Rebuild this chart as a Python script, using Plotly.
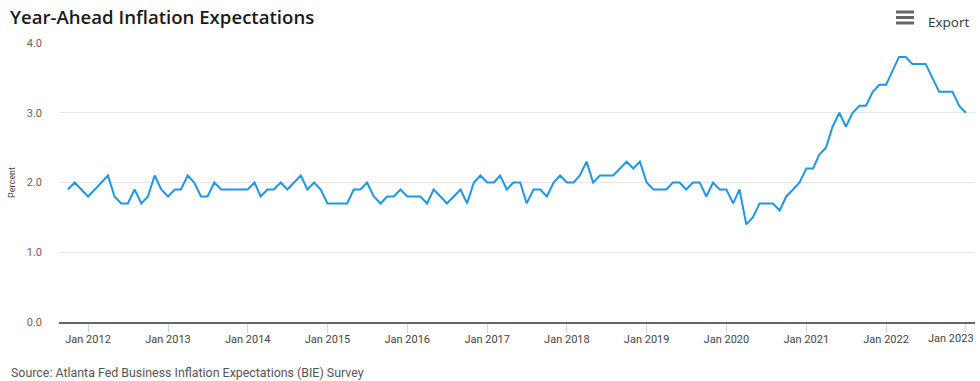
import plotly.graph_objects as go
import pandas as pd

start_month = "2011-10-01"
values = [
    1.9, 2.0, 1.9,
    1.8, 1.9, 2.0, 2.1, 1.8, 1.7, 1.7, 1.9, 1.7, 1.8, 2.1, 1.9,
    1.8, 1.9, 1.9, 2.1, 2.0, 1.8, 1.8, 2.0, 1.9, 1.9, 1.9, 1.9,
    1.9, 2.0, 1.8, 1.9, 1.9, 2.0, 1.9, 2.0, 2.1, 1.9, 2.0, 1.9,
    1.7, 1.7, 1.7, 1.7, 1.9, 1.9, 2.0, 1.8, 1.7, 1.8, 1.8, 1.9,
    1.8, 1.8, 1.8, 1.7, 1.9, 1.8, 1.7, 1.8, 1.9, 1.7, 2.0, 2.1,
    2.0, 2.0, 2.1, 1.9, 2.0, 2.0, 1.7, 1.9, 1.9, 1.8, 2.0, 2.1,
    2.0, 2.0, 2.1, 2.3, 2.0, 2.1, 2.1, 2.1, 2.2, 2.3, 2.2, 2.3,
    2.0, 1.9, 1.9, 1.9, 2.0, 2.0, 1.9, 2.0, 2.0, 1.8, 2.0, 1.9,
    1.9, 1.7, 1.9, 1.4, 1.5, 1.7, 1.7, 1.7, 1.6, 1.8, 1.9, 2.0,
    2.2, 2.2, 2.4, 2.5, 2.8, 3.0, 2.8, 3.0, 3.1, 3.1, 3.3, 3.4,
    3.4, 3.6, 3.8, 3.8, 3.7, 3.7, 3.7, 3.5, 3.3, 3.3, 3.3, 3.1,
    3.0,
]
dates = pd.date_range(start_month, periods=len(values), freq="MS")

x_tick_dates = pd.date_range("2012-01-01", "2023-01-01", freq="YS")
x_tick_labels = [d.strftime("Jan %Y") for d in x_tick_dates]
y_ticks = [0, 1, 2, 3, 4]
y_labels = ["0.0", "1.0", "2.0", "3.0", "4.0"]
title_text = "Year-Ahead Inflation Expectations"
source_text = "Source: Atlanta Fed Business Inflation Expectations (BIE) Survey"
y_title = "Percent"

W, H = 980, 381
L, R, T, B = 59, 5, 43, 59

fig = go.Figure()
fig.add_trace(go.Scatter(
    x=dates, y=values, mode="lines",
    line=dict(color="#1f96e6", width=2),
    hovertemplate="%{x|%b %Y}: %{y:.1f}<extra></extra>",
    showlegend=False,
))

# last tick label is drawn separately (shifted left so it stays inside the page)
shown_text = x_tick_labels[:-1] + [""]

fig.update_layout(
    width=W, height=H,
    margin=dict(l=L, r=R, t=T, b=B),
    paper_bgcolor="white", plot_bgcolor="white",
    font=dict(family="Roboto, Open Sans, sans-serif", color="#555"),
    xaxis=dict(
        range=["2011-08-21", "2023-02-12"],
        tickvals=list(x_tick_dates), ticktext=shown_text,
        ticks="outside", ticklen=9, tickcolor="#ccd6eb", tickwidth=1,
        showgrid=False, showline=True, linecolor="#666", linewidth=2,
        tickfont=dict(size=11, color="#444"),
        ticklabelstandoff=-3,
        zeroline=False,
    ),
    yaxis=dict(
        range=[0, 4], tickvals=y_ticks, ticktext=y_labels,
        showgrid=True, gridcolor="#e6e6e6", gridwidth=1,
        zeroline=False, showline=False,
        tickfont=dict(size=11, color="#666"),
        ticks="", ticklabelstandoff=16,
        title=dict(text=y_title, font=dict(size=9, color="#444"), standoff=9),
    ),
)

def px_x(p):
    return (p - L) / (W - L - R)
def px_y(p):
    return (H - B - p) / (H - T - B)

fig.add_annotation(
    text=x_tick_labels[-1], xref="x", yref="paper",
    x=x_tick_dates[-1], y=px_y(330),
    xanchor="right", yanchor="top", xshift=10, showarrow=False,
    font=dict(size=11, color="#444"),
)

fig.add_annotation(
    text=title_text, xref="paper", yref="paper",
    x=px_x(8), y=px_y(2),
    xanchor="left", yanchor="top", showarrow=False,
    font=dict(family="Open Sans, sans-serif", size=18.6, color="#1a1a1a", weight=600),
)
fig.add_annotation(
    text="Export", xref="paper", yref="paper",
    x=px_x(971), y=px_y(11),
    xanchor="right", yanchor="top", showarrow=False,
    font=dict(family="Open Sans, sans-serif", size=13.5, color="#333"),
)
# hamburger icon
for yy in (12, 17.5, 23):
    fig.add_shape(type="rect", xref="paper", yref="paper",
                  x0=px_x(896), x1=px_x(914), y0=px_y(yy + 1.5), y1=px_y(yy - 1.5),
                  fillcolor="#666", line=dict(width=0))

fig.add_annotation(
    text=source_text, xref="paper", yref="paper",
    x=px_x(9), y=px_y(363),
    xanchor="left", yanchor="top", showarrow=False,
    font=dict(size=12.4, color="#555"),
)

fig.write_html("out.html", config={"displayModeBar": False},
               post_script="document.body.style.margin='0px';")
